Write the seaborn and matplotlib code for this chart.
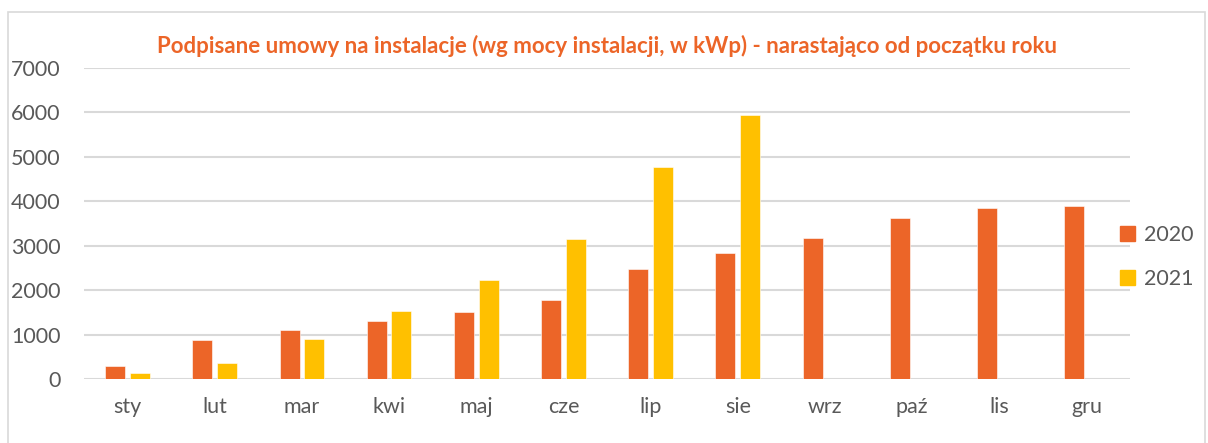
import numpy as np
import pandas as pd
import seaborn as sns
import matplotlib.pyplot as plt
from matplotlib.patches import Rectangle

# values (kWp, cumulative)
months = ['sty', 'lut', 'mar', 'kwi', 'maj', 'cze', 'lip', 'sie', 'wrz', 'paź', 'lis', 'gru']
y2020 = [285, 880, 1105, 1315, 1500, 1770, 2485, 2830, 3170, 3620, 3840, 3890]
y2021 = [145, 370, 905, 1535, 2235, 3160, 4765, 5945, np.nan, np.nan, np.nan, np.nan]
years = ['2020', '2021']
colors = ['#EC6528', '#FFC000']

df = pd.DataFrame({'miesiac': months * 2,
                   'rok': [years[0]] * 12 + [years[1]] * 12,
                   'kWp': y2020 + y2021})

sns.set_style('white')
plt.rcParams['font.family'] = ['Lato', 'DejaVu Sans']

fig = plt.figure(figsize=(12.08, 4.43), dpi=100)
ax = fig.add_axes([0.0695, 0.1445, 0.866, 0.702])

sns.barplot(data=df, x='miesiac', y='kWp', hue='rok', order=months,
            hue_order=years, palette=colors, saturation=1, width=0.566, gap=0.19,
            edgecolor='white', linewidth=0.4, ax=ax)

ax.set_ylim(0, 7000)
ax.set_yticks(range(0, 7001, 1000))
ax.set_xlim(-0.5, 11.5)
ax.set_xlabel('')
ax.set_ylabel('')
ax.yaxis.grid(True, color='#D9D9D9', linewidth=1.5)
ax.set_axisbelow(True)
for s in ax.spines.values():
    s.set_visible(False)
ax.tick_params(axis='y', length=0, pad=17, labelsize=15.5, labelcolor='#595959')
ax.tick_params(axis='x', length=0, pad=13, labelsize=15.5, labelcolor='#595959')

ax.set_title('Podpisane umowy na instalacje (wg mocy instalacji, w kWp) - narastająco od początku roku',
             fontsize=16, fontweight='bold', color='#EC6528', pad=11)

ax.get_legend().remove()
handles = [Rectangle((0, 0), 1, 1, color=c) for c in colors]
fig.legend(handles, years, loc='center left', bbox_to_anchor=(0.915, 0.42),
           frameon=False, fontsize=15.5, labelcolor='#595959', borderpad=0.2,
           handlelength=0.7, handleheight=0.7, handletextpad=0.4, labelspacing=1.1)

# chart frame
fig.patches.append(Rectangle((8 / 1208, -0.02), 1197 / 1208, 1 - 12 / 443 + 0.02,
                             transform=fig.transFigure, fill=False,
                             edgecolor='#D9D9D9', linewidth=1.2))

fig.savefig('out.png', dpi=100)
